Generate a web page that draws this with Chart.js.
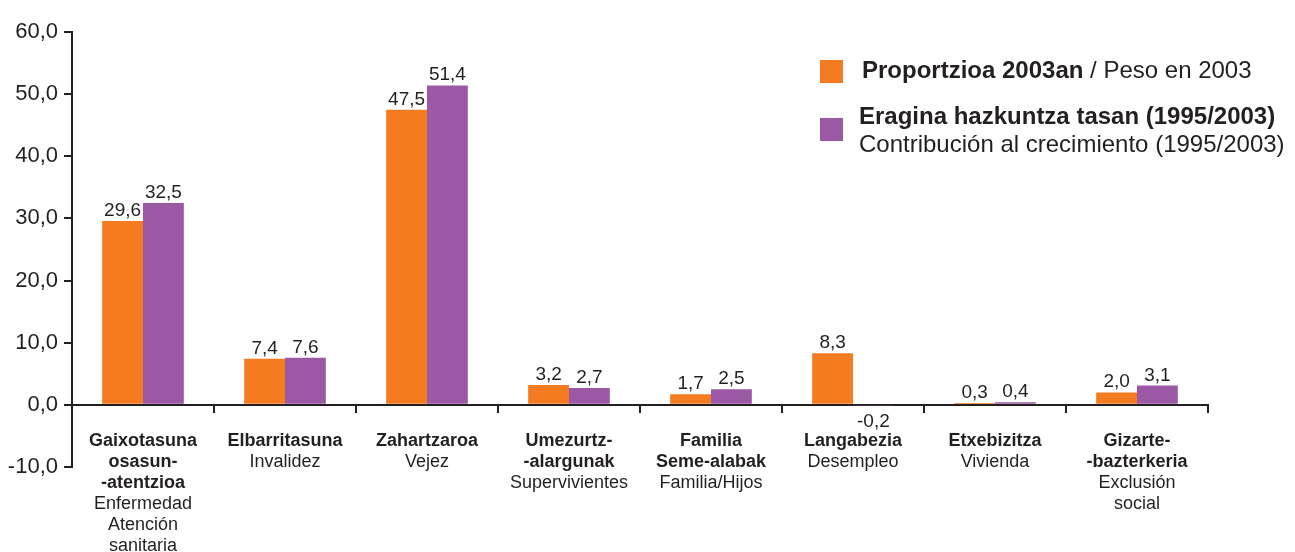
<!DOCTYPE html>
<html>
<head>
<meta charset="utf-8">
<script src="https://cdn.jsdelivr.net/npm/chart.js@4/dist/chart.umd.min.js"></script>
<style>
  html, body { margin: 0; padding: 0; background: #fff; }
  #wrap { position: relative; width: 1295px; height: 552px; font-family: "Liberation Sans", Arial, sans-serif; color: #231f20; }
  #chart { position: absolute; left: 0; top: 0; }
  .lg-sq { position: absolute; width: 23px; height: 23px; }
  .lg-tx { position: absolute; font-size: 24px; line-height: 28px; white-space: nowrap; }
  .lg-tx b { font-weight: bold; }
</style>
</head>
<body>
<div id="wrap">
  <canvas id="chart" width="1295" height="552"></canvas>
  <div id="legend"></div>
</div>
<script>
const INK = '#231f20';
const FONT = '"Liberation Sans", Arial, sans-serif';

// categories: bold Basque lines, regular Spanish lines
const catBold = [
  ['Gaixotasuna', 'osasun-', '-atentzioa'], ['Elbarritasuna'], ['Zahartzaroa'], ['Umezurtz-', '-alargunak'],
  ['Familia', 'Seme-alabak'], ['Langabezia'], ['Etxebizitza'], ['Gizarte-', '-bazterkeria'],
];
const catRegular = [
  ['Enfermedad', 'Atención', 'sanitaria'], ['Invalidez'], ['Vejez'], ['Supervivientes'],
  ['Familia/Hijos'], ['Desempleo'], ['Vivienda'], ['Exclusión', 'social'],
];
const peso2003 = [29.6, 7.4, 47.5, 3.2, 1.7, 8.3, 0.3, 2.0];
const contribucion = [32.5, 7.6, 51.4, 2.7, 2.5, -0.2, 0.4, 3.1];
const seriesColors = ['#f47b20', '#9b59a5'];
const legendBold = ['Proportzioa 2003an', 'Eragina hazkuntza tasan (1995/2003)'];
const legendRegular = [' / Peso en 2003', 'Contribución al crecimiento (1995/2003)'];
const yMin = -10, yMax = 60, yStep = 10;

const fmt = v => v.toFixed(1).replace('.', ',');

// legend (mixed bold/regular, so plain html)
document.getElementById('legend').innerHTML =
  `<div class="lg-sq" style="left:820px;top:60px;background:${seriesColors[0]}"></div>
   <div class="lg-tx" style="left:862px;top:56px"><b>${legendBold[0]}</b>${legendRegular[0]}</div>
   <div class="lg-sq" style="left:820px;top:118px;background:${seriesColors[1]}"></div>
   <div class="lg-tx" style="left:859px;top:102px"><b>${legendBold[1]}</b><br>${legendRegular[1]}</div>`;

const valueLabels = {
  id: 'valueLabels',
  afterDatasetsDraw(chart) {
    const ctx = chart.ctx;
    ctx.save();
    ctx.fillStyle = INK; ctx.font = '19px ' + FONT; ctx.textAlign = 'center';
    chart.data.datasets.forEach((ds, di) => {
      chart.getDatasetMeta(di).data.forEach((bar, i) => {
        const v = ds.data[i];
        if (v >= 0) { ctx.textBaseline = 'alphabetic'; ctx.fillText(fmt(v), bar.x, bar.y - 5); }
        else { ctx.textBaseline = 'top'; ctx.fillText(fmt(v), bar.x, bar.y + 6); }
      });
    });
    ctx.restore();
  }
};

const catLabels = {
  id: 'catLabels',
  afterDraw(chart) {
    const ctx = chart.ctx, xs = chart.scales.x, ys = chart.scales.y;
    const y0 = ys.getPixelForValue(0) + 36;
    ctx.save();
    ctx.fillStyle = INK; ctx.textAlign = 'center'; ctx.textBaseline = 'middle';
    catBold.forEach((bold, i) => {
      const x = xs.getPixelForValue(i);
      let y = y0;
      ctx.font = 'bold 18px ' + FONT;
      bold.forEach(t => { ctx.fillText(t, x, y); y += 21; });
      ctx.font = '18px ' + FONT;
      catRegular[i].forEach(t => { ctx.fillText(t, x, y); y += 21; });
    });
    ctx.restore();
  }
};

new Chart(document.getElementById('chart'), {
  type: 'bar',
  data: {
    labels: catBold.map(b => b.join(' ')),
    datasets: [
      { label: legendBold[0], data: peso2003, backgroundColor: seriesColors[0] },
      { label: legendBold[1], data: contribucion, backgroundColor: seriesColors[1] },
    ],
  },
  options: {
    responsive: false, animation: false,
    layout: { padding: { left: 0, top: 32, right: 87, bottom: 85 } },
    datasets: { bar: { categoryPercentage: 0.575, barPercentage: 1 } },
    plugins: { legend: { display: false }, tooltip: { enabled: false } },
    scales: {
      x: {
        position: { y: 0 },
        grid: { offset: true, drawOnChartArea: false, drawTicks: true, tickLength: 7, color: INK, lineWidth: 2 },
        border: { color: INK, width: 2 },
        ticks: { display: false },
      },
      y: {
        min: yMin, max: yMax,
        afterFit: s => { s.width = 72; },
        grid: { drawOnChartArea: false, drawTicks: true, tickLength: 8, color: INK, lineWidth: 2 },
        border: { color: INK, width: 2 },
        ticks: { stepSize: yStep, padding: 6, color: INK, font: { size: 22, family: FONT }, callback: v => fmt(v) },
      },
    },
  },
  plugins: [valueLabels, catLabels],
});
</script>
</body>
</html>
